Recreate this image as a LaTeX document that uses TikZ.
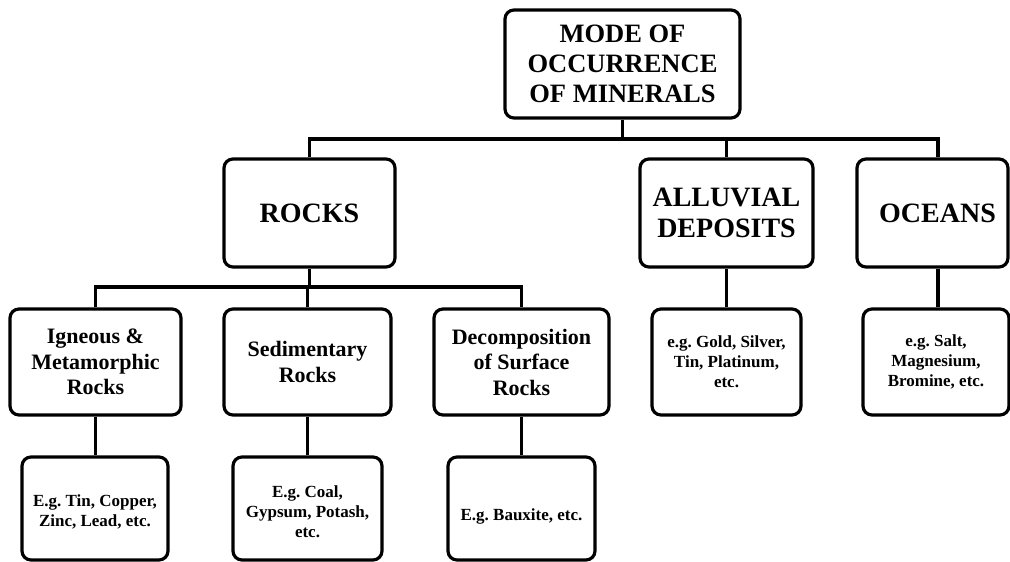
\documentclass[tikz,border=0pt]{standalone}
\usepackage{fontspec}
\setmainfont{Liberation Serif}
\frenchspacing
\begin{document}
\begin{tikzpicture}[x=1pt,y=-1pt,
  box/.style={draw=black, line width=3.2pt, rounded corners=9pt, fill=white,
    inner sep=0pt, align=center, font=\bfseries},
  conn/.style={draw=black, line width=3.2pt},
  fbig/.style={font=\bfseries\fontsize{28}{31}\selectfont},
  ftop/.style={font=\bfseries\fontsize{26.5}{30}\selectfont},
  fmid/.style={font=\bfseries\fontsize{22}{25.5}\selectfont},
  fsmall/.style={font=\bfseries\fontsize{17}{20}\selectfont},
  lowtext/.style={label={[fsmall, align=center, yshift=-#1]center:}},
]
\fill[white] (0,0) rectangle (1010,562);
\useasboundingbox (0,0) rectangle (1010,562);

% level 0
\node[box, ftop, minimum width=235pt, minimum height=108pt] (top) at (622.5,64) {MODE OF\\OCCURRENCE\\OF MINERALS};

% level 1
\node[box, fbig, minimum width=171pt, minimum height=108pt] (rocks) at (309.5,213) {ROCKS};
\node[box, fbig, minimum width=173pt, minimum height=108pt] (alluvial) at (726.5,213) {ALLUVIAL\\DEPOSITS};
\node[box, fbig, minimum width=151pt, minimum height=108pt, text width=151pt] (oceans) at (932.5,213) {\hspace*{10pt}OCEANS};

% level 2
\node[box, fmid, minimum width=171pt, minimum height=106pt] (ign) at (95.5,362) {Igneous \&\\Metamorphic\\Rocks};
\node[box, fmid, minimum width=167pt, minimum height=106pt] (sed) at (307.5,362) {Sedimentary\\Rocks};
\node[box, fmid, minimum width=175pt, minimum height=106pt] (dec) at (521.5,362) {Decomposition\\of Surface\\Rocks};
\node[box, fsmall, minimum width=149pt, minimum height=106pt] (alex) at (726.5,362) {e.g. Gold, Silver,\\Tin, Platinum,\\etc.};
\node[box, fsmall, minimum width=146pt, minimum height=106pt] (ocex) at (936,362) {e.g. Salt,\\Magnesium,\\Bromine, etc.};

% level 3
\node[box, minimum width=146pt, minimum height=103pt,
  label={[fsmall, align=center, yshift=-3pt]center:E.g. Tin, Copper,\\Zinc, Lead, etc.}] (igex) at (95,508.5) {};
\node[box, minimum width=149pt, minimum height=103pt,
  label={[fsmall, align=center, yshift=-3pt]center:E.g. Coal,\\Gypsum, Potash,\\etc.}] (sedex) at (307.5,508.5) {};
\node[box, minimum width=147pt, minimum height=103pt,
  label={[fsmall, align=center, yshift=-8pt]center:E.g. Bauxite, etc.}] (baux) at (521.5,508.5) {};

% connectors
\coordinate (bar1) at (0,139);
\coordinate (bar2) at (0,287);
\coordinate (ocx) at (938,0);

\draw[conn] (top.south) -- (top.south |- bar1);
\draw[conn] (rocks.north) -- (rocks.north |- bar1) -- (ocx |- bar1) -- (ocx |- oceans.north);
\draw[conn] (alluvial.north) -- (alluvial.north |- bar1);

\draw[conn] (rocks.south) -- (rocks.south |- bar2);
\draw[conn] (ign.north) -- (ign.north |- bar2) -- (dec.north |- bar2) -- (dec.north);
\draw[conn] (sed.north) -- (sed.north |- bar2);

\draw[conn] (alluvial.south) -- (alex.north);
\draw[conn] (ocx |- oceans.south) -- (ocx |- ocex.north);

\draw[conn] (ign.south) -- (ign.south |- igex.north);
\draw[conn] (sed.south) -- (sedex.north);
\draw[conn] (dec.south) -- (baux.north);
\end{tikzpicture}
\end{document}
